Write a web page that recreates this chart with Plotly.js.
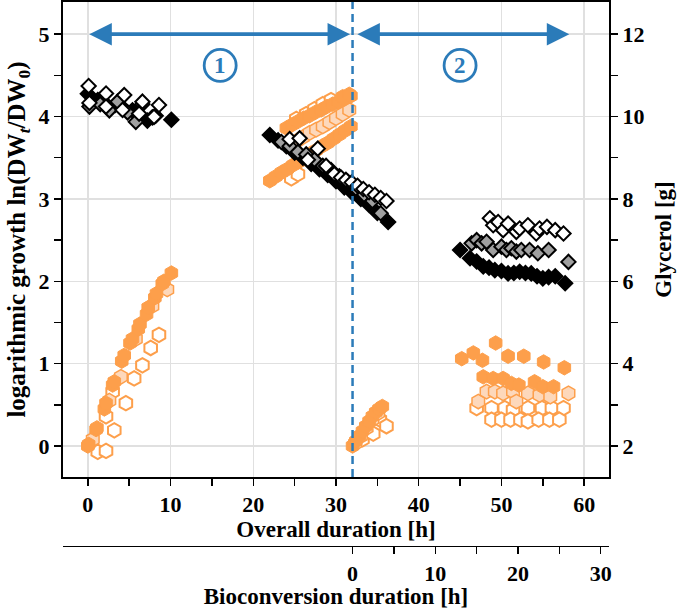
<!DOCTYPE html>
<html>
<head>
<meta charset="utf-8">
<script src="https://cdn.plot.ly/plotly-3.0.1.min.js"></script>
<style>
  html, body { margin: 0; padding: 0; background: #fff; }
  #chart { width: 685px; height: 609px; }
</style>
</head>
<body>
<div id="chart"></div>
<script>
// ---- growth, ln(DWt/DW0), left axis (hexagons) ----
const filledX = [0, 0.1, 1, 1.1, 2, 2.2, 3, 3.2, 4.1, 4.4, 5.1, 5.4, 6.1, 6.3, 7.1, 7.3, 8.1, 8.3, 9, 9.2, 10.1,
  22, 22.7, 23.4, 24.1, 24.8, 25.5, 26.2, 26.9, 27.6, 28.3, 29, 29.7, 30.4, 31.1, 31.8,
  24, 24.7, 25.4, 26.1, 26.8, 27.5, 28.2, 28.9, 29.6, 30.3, 31, 31.8, 30.8, 31.6,
  32, 32.4, 32.8, 33.2, 33.6, 34, 34.4, 34.8, 35.2, 35.6,
  45.2, 46.6, 47.7, 49.3, 50.8, 52.7, 55.1, 57.6, 47.8, 49.0, 50.2, 51.2, 52.1, 54.0, 55.0, 56.3];
const filledY = [0, 0.02, 0.2, 0.22, 0.45, 0.52, 0.74, 0.78, 1.03, 1.1, 1.25, 1.3, 1.42, 1.48, 1.6, 1.68, 1.8, 1.85, 1.97, 2.0, 2.1,
  3.22, 3.27, 3.32, 3.36, 3.41, 3.45, 3.5, 3.55, 3.59, 3.64, 3.68, 3.73, 3.78, 3.83, 3.88,
  3.86, 3.9, 3.94, 3.98, 4.01, 4.05, 4.08, 4.12, 4.15, 4.18, 4.21, 4.25, 4.24, 4.27,
  0.0, 0.06, 0.12, 0.18, 0.24, 0.3, 0.36, 0.41, 0.45, 0.48,
  1.06, 1.13, 1.04, 1.25, 1.09, 1.09, 1.02, 0.95, 0.84, 0.82, 0.82, 0.76, 0.74, 0.78, 0.72, 0.72];

const peachX = [0.6, 2.6, 4.0, 5.8, 7.8, 9.6,
  24.5, 25.2, 26, 26.8, 27.6, 28.4, 29.2, 30, 30.8, 31.6,
  32.3, 33, 33.7, 34.4, 35.1,
  47.2, 48.2, 49.2, 50.2, 51.4, 51.8, 53.2, 54.6, 55.9, 58.1];
const peachY = [0.08, 0.55, 0.84, 1.3, 1.7, 1.9,
  3.65, 3.7, 3.75, 3.8, 3.84, 3.88, 3.93, 3.98, 4.03, 4.08,
  0.03, 0.12, 0.22, 0.32, 0.4,
  0.54, 0.66, 0.66, 0.64, 0.66, 0.54, 0.64, 0.62, 0.6, 0.64];

const openX = [1.2, 2.2, 2.2, 3.0, 3.2, 4.6, 5.6, 6.6, 7.6, 8.6,
  24.6, 25.4, 25.2, 26.4, 27.4, 28.4, 29.4,
  33.2, 34.5, 35.3, 36.1,
  47.0, 48.8, 50.4, 51.4, 53.2, 54.9, 56.1, 57.5, 48.8, 50.0, 51.1, 52.3, 53.2, 54.5, 55.8, 57.0];
const openY = [-0.07, -0.06, 0.36, 0.66, 0.19, 0.52, 0.82, 0.98, 1.19, 1.35,
  3.25, 3.3, 3.97, 4.03, 4.09, 4.15, 4.2,
  0.08, 0.15, 0.32, 0.24,
  0.46, 0.46, 0.46, 0.44, 0.46, 0.46, 0.46, 0.46, 0.32, 0.32, 0.32, 0.32, 0.3, 0.32, 0.32, 0.32];

// ---- glycerol [g], right axis (diamonds) ----
const blackX = [0, 1.2, 2.2, 3.3, 4.3, 5.4, 6.2, 7.2, 8.2, 10.1,
  22, 23, 24, 25, 26, 27, 28, 29, 30, 31, 32, 33, 34, 35, 36.3,
  45, 46.2, 47, 47.8, 48.5, 49.2, 50, 50.8, 51.5, 52.2, 52.9, 53.6, 54.3, 55, 55.7, 56.5, 57.7];
const blackG = [10.55, 10.4, 10.3, 10.28, 10.2, 10.15, 10.05, 9.9, 10.02, 9.92,
  9.55, 9.42, 9.28, 9.12, 9.0, 8.85, 8.72, 8.58, 8.43, 8.28, 8.14, 8.0, 7.85, 7.66, 7.44,
  6.76, 6.56, 6.48, 6.36, 6.33, 6.27, 6.25, 6.19, 6.2, 6.23, 6.2, 6.19, 6.12, 6.07, 6.1, 6.12, 5.95];

const greyX = [0.2, 1.5, 2.6, 3.6, 4.8, 5.8, 6.6, 7.8,
  23.4, 24.4, 25.4, 26.4, 27.4, 28.4, 29.4, 30.4, 31.4, 32.4, 33.4, 34.4, 35.4,
  46.4, 47, 47.6, 48.2, 49, 50, 50.6, 51.2, 51.8, 52.4, 53.4, 54.4, 55.7, 58.1];
const greyG = [10.24, 10.3, 10.15, 10.36, 10.1, 9.87, 10.3, 9.98,
  9.38, 9.28, 9.14, 9.08, 8.95, 8.8, 8.7, 8.55, 8.42, 8.25, 8.1, 7.95, 7.65,
  6.92, 7.0, 6.92, 6.96, 6.76, 6.84, 6.76, 6.8, 6.72, 6.76, 6.76, 6.68, 6.76, 6.47];

const whiteX = [0.1, 2.2, 4.4, 6.6, 8.6, 0.2, 2.2, 4.2, 6.2, 8.0,
  24.4, 25.6, 26.6, 27.8, 28.8, 29.8, 30.6, 31.2, 31.9, 32.6, 33.3, 34, 34.7, 35.4, 36.1,
  48.6, 49.0, 49.6, 50.2, 50.8, 51.8, 52.2, 53.2, 54.2, 54.6, 55.5, 56.5, 57.5];
const whiteG = [10.74, 10.56, 10.52, 10.36, 10.28, 10.33, 10.24, 10.16, 10.07, 9.99,
  9.45, 9.47, 8.95, 9.22, 8.8, 8.6, 8.52, 8.46, 8.4, 8.32, 8.24, 8.16, 8.1, 8.02, 7.95,
  7.53, 7.36, 7.44, 7.24, 7.4, 7.2, 7.28, 7.36, 7.16, 7.28, 7.32, 7.24, 7.16];

// ticks and phase annotations
const overallTicks = [0, 10, 20, 30, 40, 50, 60];
const bioTicks = [0, 10, 20, 30];
const bioMinor = [5, 15, 25];
const switchTime = 32;        // start of bioconversion
const phaseArrows = [[0, 31.7], [32.4, 58.2]];
const phaseLabels = ['1', '2'];
const phaseLabelX = [16, 45];

const blue = '#2b7bb9';
const orange = '#fd9f4b';
const serif = 'Liberation Serif, Times New Roman, serif';

const hexBase = { type: 'scatter', mode: 'markers', xaxis: 'x', yaxis: 'y', showlegend: false, hoverinfo: 'skip' };
const diaBase = { type: 'scatter', mode: 'markers', xaxis: 'x', yaxis: 'y2', showlegend: false, hoverinfo: 'skip' };

const traces = [
  { ...hexBase, x: openX, y: openY, marker: { symbol: 'hexagon', size: 14.5, color: '#ffffff', line: { color: orange, width: 2 } } },
  { ...hexBase, x: peachX, y: peachY, marker: { symbol: 'hexagon', size: 14.5, color: '#fdd8bb', line: { color: orange, width: 1.5 } } },
  { ...hexBase, x: filledX, y: filledY, marker: { symbol: 'hexagon', size: 14.5, color: orange, line: { color: orange, width: 1 } } },
  { ...diaBase, x: blackX, y: blackG, marker: { symbol: 'diamond', size: 11, color: '#000000', line: { color: '#000000', width: 2 } } },
  { ...diaBase, x: greyX, y: greyG, marker: { symbol: 'diamond', size: 11, color: '#a0a0a0', line: { color: '#000000', width: 2 } } },
  { ...diaBase, x: whiteX, y: whiteG, marker: { symbol: 'diamond', size: 11, color: '#ffffff', line: { color: '#000000', width: 2 } } },
  // carrier for the bioconversion axis
  { type: 'scatter', mode: 'markers', x: bioTicks, y: bioTicks.map(() => null), xaxis: 'x2', yaxis: 'y', showlegend: false, hoverinfo: 'skip' }
];

const tickFont = { family: serif, size: 22, color: '#000', weight: 'bold' };
const titleFont = { family: serif, size: 23, color: '#000', weight: 'bold' };

const shapes = [
  { type: 'line', xref: 'x', yref: 'y domain', x0: switchTime, x1: switchTime, y0: 0, y1: 1,
    line: { color: blue, width: 2.5, dash: '8px,5px' }, layer: 'above' }
];
phaseLabelX.forEach(x => {
  shapes.push({ type: 'circle', xref: 'x', yref: 'y', xsizemode: 'pixel', ysizemode: 'pixel',
    xanchor: x, yanchor: 4.62, x0: -16, x1: 16, y0: -16, y1: 16,
    line: { color: blue, width: 2.8 }, fillcolor: 'rgba(0,0,0,0)', layer: 'above' });
});

const annotations = [];
phaseArrows.forEach(a => {
  annotations.push({ x: a[1], y: 5, ax: a[0], ay: 5, xref: 'x', yref: 'y', axref: 'x', ayref: 'y',
    text: '', showarrow: true, arrowside: 'end+start', arrowhead: 2, startarrowhead: 2,
    arrowsize: 1.25, startarrowsize: 1.25, arrowwidth: 3.6, arrowcolor: blue, standoff: 0, startstandoff: 0 });
});
phaseLabels.forEach((t, i) => {
  annotations.push({ x: phaseLabelX[i], y: 4.62, xref: 'x', yref: 'y', text: t, showarrow: false,
    font: { family: serif, size: 23, color: blue, weight: 'bold' } });
});

const layout = {
  width: 685, height: 609,
  margin: { l: 63, r: 76, t: 2, b: 0 },
  paper_bgcolor: '#fff', plot_bgcolor: '#fff',
  font: { family: serif, color: '#000' },
  xaxis: {
    range: [-3, 63], tickmode: 'array', tickvals: overallTicks,
    ticks: 'outside', ticklen: 7, tickwidth: 1.5, tickcolor: '#000',
    minor: { dtick: 5, tick0: 0, ticks: 'outside', ticklen: 7, tickwidth: 1.5, tickcolor: '#000', showgrid: false },
    showline: true, linewidth: 2, linecolor: '#000', mirror: true,
    showgrid: true, gridcolor: '#e0e0e0', gridwidth: 1.5, zeroline: false,
    tickfont: tickFont,
    title: { text: 'Overall duration [h]', font: titleFont, standoff: 3 }
  },
  xaxis2: {
    overlaying: 'x', anchor: 'free', position: 0.1038, side: 'bottom',
    range: [-35, 31], tickmode: 'array', tickvals: bioTicks,
    ticks: 'outside', ticklen: 7, tickwidth: 1.5, tickcolor: '#000',
    minor: { tickmode: 'array', tickvals: bioMinor, ticks: 'outside', ticklen: 7, tickwidth: 1.5, tickcolor: '#000', showgrid: false },
    showline: true, linewidth: 1.5, linecolor: '#000',
    showgrid: false, zeroline: false,
    tickfont: tickFont,
    title: { text: 'Bioconversion duration [h]', font: titleFont, standoff: 3 }
  },
  yaxis: {
    domain: [0.2175, 1], range: [-0.376, 5.39], dtick: 1, tick0: 0,
    ticks: 'outside', ticklen: 7, tickwidth: 1.5, tickcolor: '#000',
    minor: { dtick: 0.5, tick0: 0, ticks: 'outside', ticklen: 7, tickwidth: 1.5, tickcolor: '#000', showgrid: false },
    showline: true, linewidth: 2, linecolor: '#000',
    showgrid: true, gridcolor: '#e0e0e0', gridwidth: 1.5, zeroline: false,
    tickfont: tickFont,
    title: { text: 'logarithmic growth ln(DW<sub><i>t</i></sub>/DW<sub>0</sub>)', font: { ...titleFont, size: 25 }, standoff: 6 }
  },
  yaxis2: {
    overlaying: 'y', side: 'right', anchor: 'x', range: [1.248, 12.78], dtick: 2, tick0: 0,
    ticks: 'outside', ticklen: 7, tickwidth: 1.5, tickcolor: '#000',
    minor: { dtick: 1, tick0: 0, ticks: 'outside', ticklen: 7, tickwidth: 1.5, tickcolor: '#000', showgrid: false },
    showline: true, linewidth: 2, linecolor: '#000',
    showgrid: false, zeroline: false,
    tickfont: tickFont,
    title: { text: 'Glycerol [g]', font: titleFont, standoff: 12 }
  },
  shapes: shapes,
  annotations: annotations
};

Plotly.newPlot('chart', traces, layout, { displayModeBar: false, staticPlot: true });
</script>
</body>
</html>
